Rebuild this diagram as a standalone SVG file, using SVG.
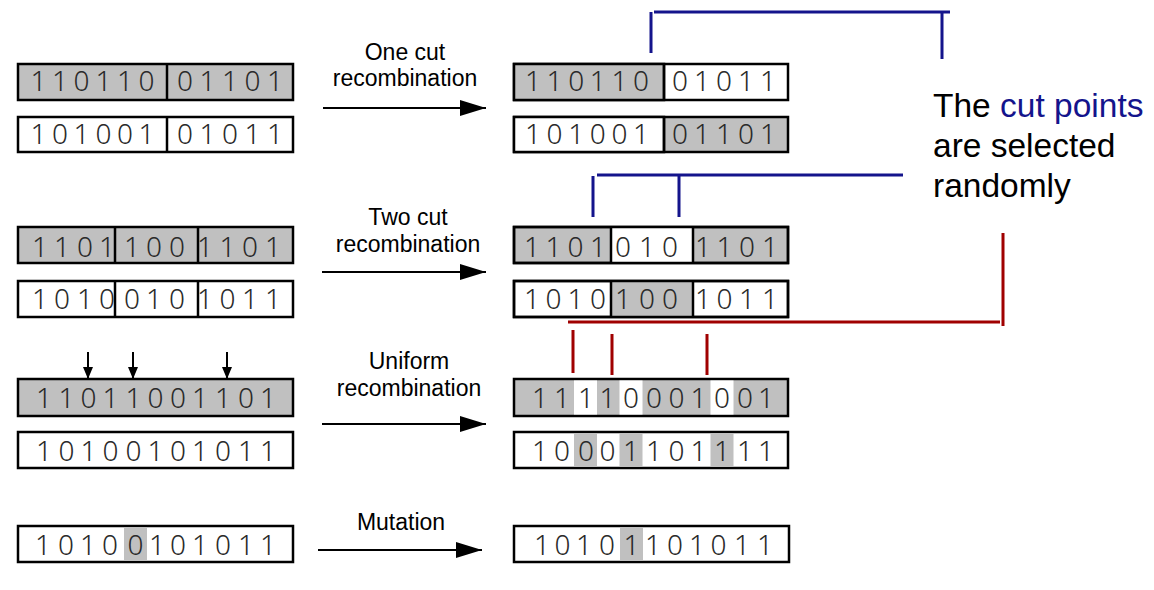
<svg xmlns="http://www.w3.org/2000/svg" width="1154" height="590" viewBox="0 0 1154 590">
<style>
.box{fill:#ffffff;stroke:#000;stroke-width:2.5}
.g{fill:#c0c0c0}
.w{fill:#ffffff}
.sep{stroke:#000;stroke-width:2.5}
.d{font-family:"Noto Sans","DejaVu Sans",sans-serif;font-size:28px;font-weight:300;fill:#2a2a2a;text-anchor:middle}
.lbl{font-family:"Liberation Sans",Arial,sans-serif;font-size:23px;fill:#000;text-anchor:middle}
.arr{stroke:#000;stroke-width:2;fill:none}
.blue{stroke:#14148c;stroke-width:3;fill:none}
.red{stroke:#a00000;stroke-width:3;fill:none}
.note{font-family:"Liberation Sans",Arial,sans-serif;font-size:33.5px;fill:#000}
</style>
<defs>
<marker id="ah" markerWidth="26" markerHeight="16" refX="26" refY="8" orient="auto" markerUnits="userSpaceOnUse"><path d="M0,0 L26,8 L0,16 Z" fill="#000"/></marker>
<marker id="sh" markerWidth="12" markerHeight="10" refX="12" refY="5" orient="auto" markerUnits="userSpaceOnUse"><path d="M0,0 L12,5 L0,10 Z" fill="#000"/></marker>
</defs>
<rect width="1154" height="590" fill="#fff"/>

<!-- Row 1: one cut -->
<g id="r1-left-top">
<rect x="18" y="64" width="275" height="36" class="box g"/>
<line x1="167" y1="64" x2="167" y2="100" class="sep"/>
<text class="d" x="38.5 60 81.5 103.5 125 146.5 185 207.5 230 252.5 275" y="91">11011001101</text>
</g>
<g id="r1-left-bot">
<rect x="18" y="117" width="275" height="35" class="box"/>
<line x1="167" y1="117" x2="167" y2="152" class="sep"/>
<text class="d" x="38.5 60 81.5 103.5 125 146.5 185 207.5 230 252.5 275" y="144">10100101011</text>
</g>
<g id="r1-right-top">
<rect x="514" y="64" width="274" height="36" class="box"/>
<rect x="514" y="64" width="150" height="36" class="box g"/>
<line x1="664" y1="64" x2="664" y2="100" class="sep"/>
<text class="d" x="533 554.6 576.2 597.8 619.4 641 680 702 724 746 768" y="91">11011001011</text>
</g>
<g id="r1-right-bot">
<rect x="514" y="117" width="274" height="35" class="box g"/>
<rect x="514" y="117" width="150" height="35" class="box"/>
<line x1="664" y1="117" x2="664" y2="152" class="sep"/>
<text class="d" x="533 554.6 576.2 597.8 619.4 641 680 702 724 746 768" y="144">10100101101</text>
</g>

<!-- Row 2: two cut -->
<g id="r2-left-top">
<rect x="18" y="227" width="275" height="36" class="box g"/>
<line x1="115" y1="227" x2="115" y2="263" class="sep"/>
<line x1="198" y1="227" x2="198" y2="263" class="sep"/>
<text class="d" x="40 62 85 107 132 154 177 205 227.5 250 273" y="257">11011001101</text>
</g>
<g id="r2-left-bot">
<rect x="18" y="281" width="275" height="36" class="box"/>
<line x1="115" y1="281" x2="115" y2="317" class="sep"/>
<line x1="198" y1="281" x2="198" y2="317" class="sep"/>
<text class="d" x="40 62 85 107 132 154 177 205 227.5 250 273" y="309">10100101011</text>
</g>
<g id="r2-right-top">
<rect x="514" y="227" width="274" height="36" class="box g"/>
<rect x="611" y="227" width="82" height="36" class="w"/>
<rect x="514" y="227" width="274" height="36" class="box" style="fill:none"/>
<line x1="611" y1="227" x2="611" y2="263" class="sep"/>
<line x1="693" y1="227" x2="693" y2="263" class="sep"/>
<text class="d" x="532 553.5 575.5 598 623 647 670 703 724.5 747 770" y="257">11010101101</text>
</g>
<g id="r2-right-bot">
<rect x="514" y="281" width="274" height="36" class="box"/>
<rect x="611" y="281" width="82" height="36" class="g"/>
<rect x="514" y="281" width="274" height="36" class="box" style="fill:none"/>
<line x1="611" y1="281" x2="611" y2="317" class="sep"/>
<line x1="693" y1="281" x2="693" y2="317" class="sep"/>
<text class="d" x="532 553.5 575.5 598 623 647 670 703 724.5 747 770" y="309">10101001011</text>
</g>

<!-- Row 3: uniform -->
<g id="r3-left-top">
<rect x="18" y="379" width="275" height="37" class="box g"/>
<text class="d" x="44 66.5 88.5 110.5 133.5 155.5 178 200 223 246 268" y="408">11011001101</text>
</g>
<g id="r3-left-bot">
<rect x="18" y="432" width="275" height="36" class="box"/>
<text class="d" x="44 66.5 88.5 110.5 133.5 155.5 178 200 223 246 268" y="461">10100101011</text>
</g>
<g id="r3-right-top">
<rect x="514" y="379" width="274" height="37" class="box g"/>
<rect x="574" y="380.5" width="23" height="34" class="w"/>
<rect x="619.5" y="380.5" width="23" height="34" class="w"/>
<rect x="710.5" y="380.5" width="23" height="34" class="w"/>
<text class="d" x="540 562 586 607.5 631 654 676.5 698.5 722 745 766" y="408">11110001001</text>
</g>
<g id="r3-right-bot">
<rect x="514" y="432" width="274" height="36" class="box"/>
<rect x="574" y="433.5" width="23" height="33" class="g"/>
<rect x="619.5" y="433.5" width="23" height="33" class="g"/>
<rect x="710.5" y="433.5" width="23" height="33" class="g"/>
<text class="d" x="540 562 586 607.5 631 654 676.5 698.5 722 745 766" y="461">10001101111</text>
</g>

<!-- Row 4: mutation -->
<g id="r4-left">
<rect x="18" y="526" width="275" height="36" class="box"/>
<rect x="124" y="527.5" width="23" height="33" class="g"/>
<text class="d" x="43 66 88 110 135.5 157 178 200 223 246 268" y="555">10100101011</text>
</g>
<g id="r4-right">
<rect x="514" y="526" width="275" height="36" class="box"/>
<rect x="620" y="527.5" width="23" height="33" class="g"/>
<text class="d" x="542 562.5 584 607 631.5 653 675 697 718.5 742 765" y="555">10101101011</text>
</g>

<!-- Labels -->
<g id="label-one-cut">
<text class="lbl" x="405" y="60">One cut</text>
<text class="lbl" x="405" y="86">recombination</text>
</g>
<g id="label-two-cut">
<text class="lbl" x="408" y="225">Two cut</text>
<text class="lbl" x="408" y="252">recombination</text>
</g>
<g id="label-uniform">
<text class="lbl" x="409" y="369">Uniform</text>
<text class="lbl" x="409" y="396">recombination</text>
</g>
<g id="label-mutation">
<text class="lbl" x="401" y="530">Mutation</text>
</g>
<g id="note">
<text class="note" x="933" y="117">The <tspan fill="#14148c">cut points</tspan></text>
<text class="note" x="933" y="157">are selected</text>
<text class="note" x="933" y="197">randomly</text>
</g>

<!-- Connectors -->
<g id="connectors">
<line x1="323" y1="108" x2="486" y2="108" class="arr" marker-end="url(#ah)"/>
<line x1="322" y1="272" x2="486" y2="272" class="arr" marker-end="url(#ah)"/>
<line x1="322" y1="424" x2="486" y2="424" class="arr" marker-end="url(#ah)"/>
<line x1="318" y1="550" x2="482" y2="550" class="arr" marker-end="url(#ah)"/>
<line x1="88" y1="352" x2="88" y2="379" class="arr" marker-end="url(#sh)"/>
<line x1="133" y1="352" x2="133" y2="379" class="arr" marker-end="url(#sh)"/>
<line x1="227" y1="352" x2="227" y2="379" class="arr" marker-end="url(#sh)"/>
<path d="M651,53 V12 M654,12 H950 M942,12 V59" class="blue"/>
<path d="M593,217 V176 M597,175 H903 M679,175 V217" class="blue"/>
<path d="M1003,233 V326 M568,322 H1000 M573,330 V373 M612,334 V375 M707,334 V375" class="red"/>
</g>
</svg>
